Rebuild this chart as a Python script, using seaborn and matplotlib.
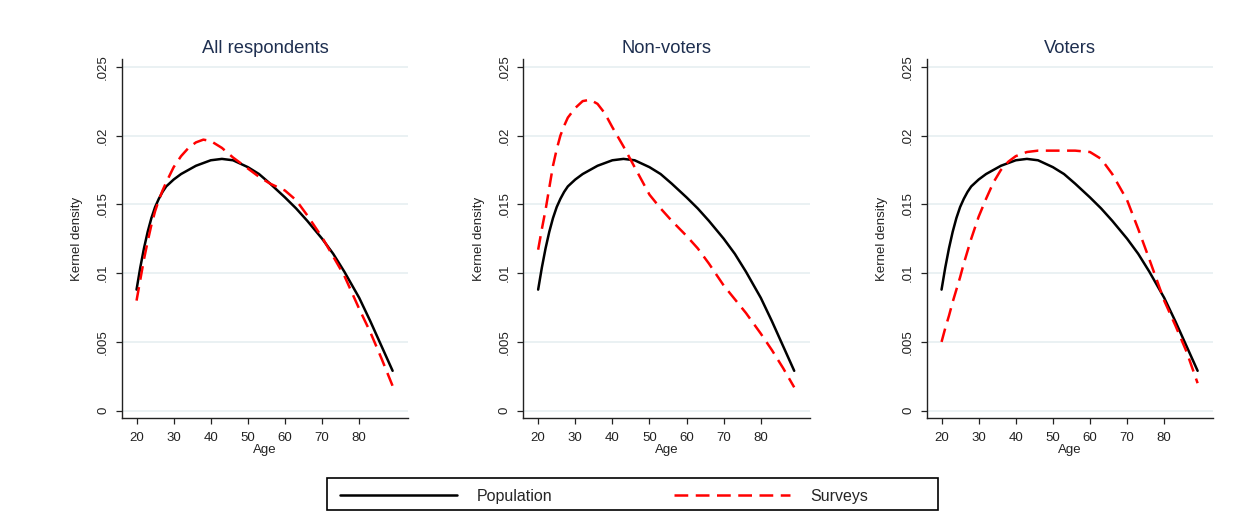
import numpy as np
import pandas as pd
import matplotlib
matplotlib.use("Agg")
import matplotlib.pyplot as plt
import seaborn as sns
from matplotlib.lines import Line2D
from matplotlib.patches import Rectangle

# ---- data ----
ages = [20, 21, 22, 23, 24, 25, 26, 27, 28, 30, 32, 34, 36, 38, 40, 43, 46, 50, 53, 56,
        60, 63, 66, 70, 73, 76, 80, 83, 86, 89]

population = [.0088, .0104, .0118, .0130, .0140, .0148, .0154, .0159, .0163, .0168, .0172, .0175,
              .0178, .0180, .0182, .0183, .0182, .0177, .0172, .0165, .0155, .0147, .0138, .0125,
              .0114, .0101, .0082, .0065, .0047, .0029]

surveys_all = [.0080, .0095, .0110, .0123, .0135, .0145, .0153, .0160, .0166, .0177, .0185, .0191,
               .0195, .0197, .0196, .0191, .0184, .0176, .0170, .0165, .0160, .0153, .0142, .0126,
               .0112, .0098, .0074, .0057, .0038, .0018]

surveys_nonvoters = [.0117, .0132, .0146, .0162, .0178, .0190, .0200, .0207, .0213, .0220, .0225, .0226,
                     .0223, .0216, .0206, .0192, .0177, .0157, .0147, .0138, .0127, .0118, .0107, .0091,
                     .0081, .0071, .0056, .0044, .0031, .0017]

surveys_voters = [.0050, .0060, .0069, .0079, .0088, .0097, .0107, .0116, .0125, .0141, .0154, .0166,
                  .0175, .0181, .0185, .0188, .0189, .0189, .0189, .0189, .0188, .0183, .0172, .0153,
                  .0132, .0110, .0080, .0062, .0043, .0020]

panel_titles = ["All respondents", "Non-voters", "Voters"]
series_names = ["Population", "Surveys"]
y_ticks = [0, 0.005, 0.01, 0.015, 0.02, 0.025]
y_ticklabels = ["0", ".005", ".01", ".015", ".02", ".025"]
x_ticks = [20, 30, 40, 50, 60, 70, 80]

# ---- build long table ----
rows = []
for title, surv in zip(panel_titles, [surveys_all, surveys_nonvoters, surveys_voters]):
    for a, p, s in zip(ages, population, surv):
        rows.append((title, "Population", a, p))
        rows.append((title, "Surveys", a, s))
df = pd.DataFrame(rows, columns=["panel", "series", "Age", "density"])

sns.set_style("white")
plt.rcParams['font.family'] = ['Liberation Sans', 'DejaVu Sans']

fig = plt.figure(figsize=(12.52, 5.12), dpi=100)
lefts = [121.7, 523.3, 926.7]
ax_w = 286.5
top_px, bot_px = 59, 418
W, H = 1252, 512

palette = {"Population": "black", "Surveys": "#ff0000"}
dashes = {"Population": "", "Surveys": (5.5, 3.0)}

for left, title in zip(lefts, panel_titles):
    ax = fig.add_axes([left / W, 1 - bot_px / H, ax_w / W, (bot_px - top_px) / H])
    sub = df[df.panel == title]
    sns.lineplot(data=sub, x="Age", y="density", hue="series", style="series",
                 palette=palette, dashes=dashes, linewidth=1.8, ax=ax, legend=False,
                 sort=True, estimator=None)
    ax.set_xlim(16.0, 93.2)
    ax.set_ylim(-0.00053, 0.02556)
    ax.set_yticks(y_ticks)
    ax.set_yticklabels(y_ticklabels, rotation=90, va="center")
    ax.set_xticks(x_ticks)
    ax.grid(axis="y", color="#e8f0f2", linewidth=1.3)
    ax.grid(axis="x", visible=False)
    ax.set_axisbelow(True)
    for s in ["top", "right"]:
        ax.spines[s].set_visible(False)
    for s in ["left", "bottom"]:
        ax.spines[s].set_color("#222222")
        ax.spines[s].set_linewidth(1.0)
    ax.tick_params(axis="both", direction="out", length=4, width=0.9, color="#222222",
                   labelsize=9.5, labelcolor="#222222", left=True, bottom=True)
    ax.tick_params(axis="y", pad=5)
    ax.tick_params(axis="x", pad=6)
    ax.set_xlabel("Age", fontsize=9.5, color="#222222", labelpad=0)
    ax.set_ylabel("Kernel density", fontsize=9.5, color="#222222", labelpad=10)
    ax.set_title(title, fontsize=13.2, color="#1e2f50", pad=4)
    ax.set_facecolor("white")

handles = [Line2D([], [], color="black", linewidth=1.8),
           Line2D([], [], color="#ff0000", linewidth=1.8, dashes=(5.5, 3.0))]
leg = fig.legend(handles, series_names, loc="center left", ncol=2,
                 bbox_to_anchor=(340 / W, 1 - 496 / H),
                 handlelength=7.3, handletextpad=1.25, columnspacing=7.6,
                 fontsize=11.5, frameon=False, borderaxespad=0, borderpad=0)
fig.add_artist(Rectangle((327 / W, 1 - 510 / H), 611 / W, 32 / H, transform=fig.transFigure,
                         fill=False, edgecolor="black", linewidth=1.2))

fig.savefig("out.png", dpi=100, facecolor="white")
